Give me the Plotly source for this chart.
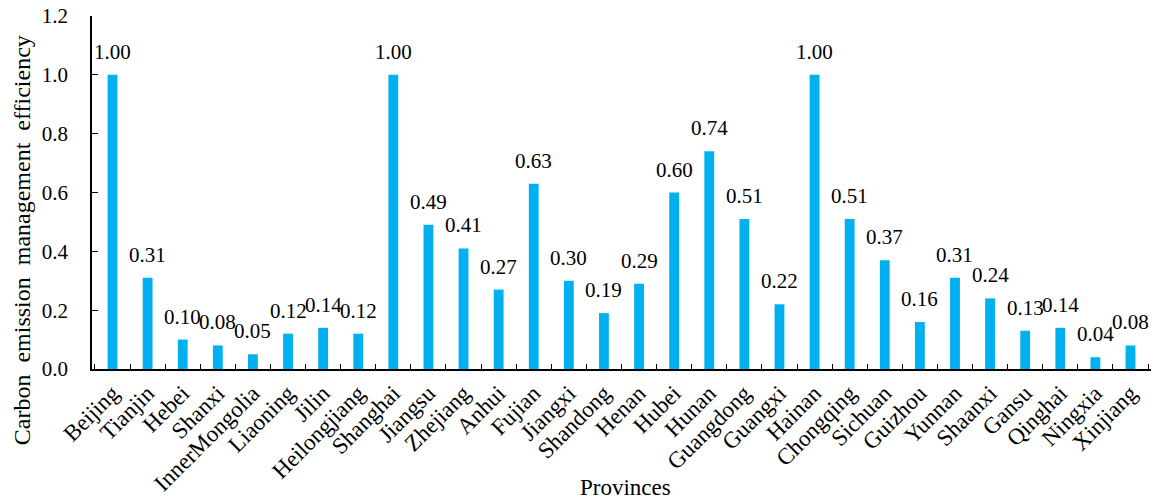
import plotly.graph_objects as go

provinces = ["Beijing", "Tianjin", "Hebei", "Shanxi", "InnerMongolia", "Liaoning", "Jilin",
             "Heilongjiang", "Shanghai", "Jiangsu", "Zhejiang", "Anhui", "Fujian", "Jiangxi",
             "Shandong", "Henan", "Hubei", "Hunan", "Guangdong", "Guangxi", "Hainan",
             "Chongqing", "Sichuan", "Guizhou", "Yunnan", "Shaanxi", "Gansu", "Qinghai",
             "Ningxia", "Xinjiang"]
efficiency = [1.00, 0.31, 0.10, 0.08, 0.05, 0.12, 0.14,
              0.12, 1.00, 0.49, 0.41, 0.27, 0.63, 0.30,
              0.19, 0.29, 0.60, 0.74, 0.51, 0.22, 1.00,
              0.51, 0.37, 0.16, 0.31, 0.24, 0.13, 0.14,
              0.04, 0.08]
y_ticks = [0.0, 0.2, 0.4, 0.6, 0.8, 1.0, 1.2]

FONT = "Liberation Serif, Times New Roman, serif"

fig = go.Figure(go.Bar(
    x=provinces,
    y=efficiency,
    marker=dict(color="#00B0F0", line=dict(width=0)),
    cliponaxis=False,
))

# value labels sitting above each bar
value_labels = [
    dict(x=p, y=v, text=f"{v:.2f}", xref="x", yref="y",
         xanchor="center", yanchor="bottom", yshift=9, showarrow=False,
         font=dict(family=FONT, size=21, color="black"))
    for p, v in zip(provinces, efficiency)
]

titles = [
    dict(text="Carbon  emission  management  efficiency", textangle=-90,
         xref="paper", yref="paper", x=-0.066, y=0.365, xanchor="center", yanchor="middle",
         showarrow=False, font=dict(family=FONT, size=24, color="black")),
    dict(text="Provinces",
         xref="paper", yref="paper", x=0.504, y=-0.337, xanchor="center", yanchor="middle",
         showarrow=False, font=dict(family=FONT, size=23, color="black")),
]

fig.update_layout(
    width=1172, height=502,
    margin=dict(l=92, r=21, t=16, b=133, autoexpand=False),
    paper_bgcolor="white", plot_bgcolor="white",
    font=dict(family=FONT, size=20, color="black"),
    bargap=0.72,
    showlegend=False,
    annotations=value_labels + titles,
)

fig.update_xaxes(
    tickangle=-45,
    tickfont=dict(family=FONT, size=23),
    ticks="inside", ticklen=5, tickwidth=1, tickcolor="black",
    tickson="boundaries",
    showline=True, linecolor="black", linewidth=1.5,
    showgrid=False, automargin=False,
)

fig.update_yaxes(
    range=[0, 1.2],
    tickvals=y_ticks,
    ticktext=[f"{v:.1f}" for v in y_ticks],
    tickfont=dict(family=FONT, size=21),
    ticks="inside", ticklen=6, tickwidth=1, tickcolor="black",
    ticklabelstandoff=18,
    showline=True, linecolor="black", linewidth=1.5,
    showgrid=False, zeroline=False, automargin=False,
)

fig.write_html("out.html")
